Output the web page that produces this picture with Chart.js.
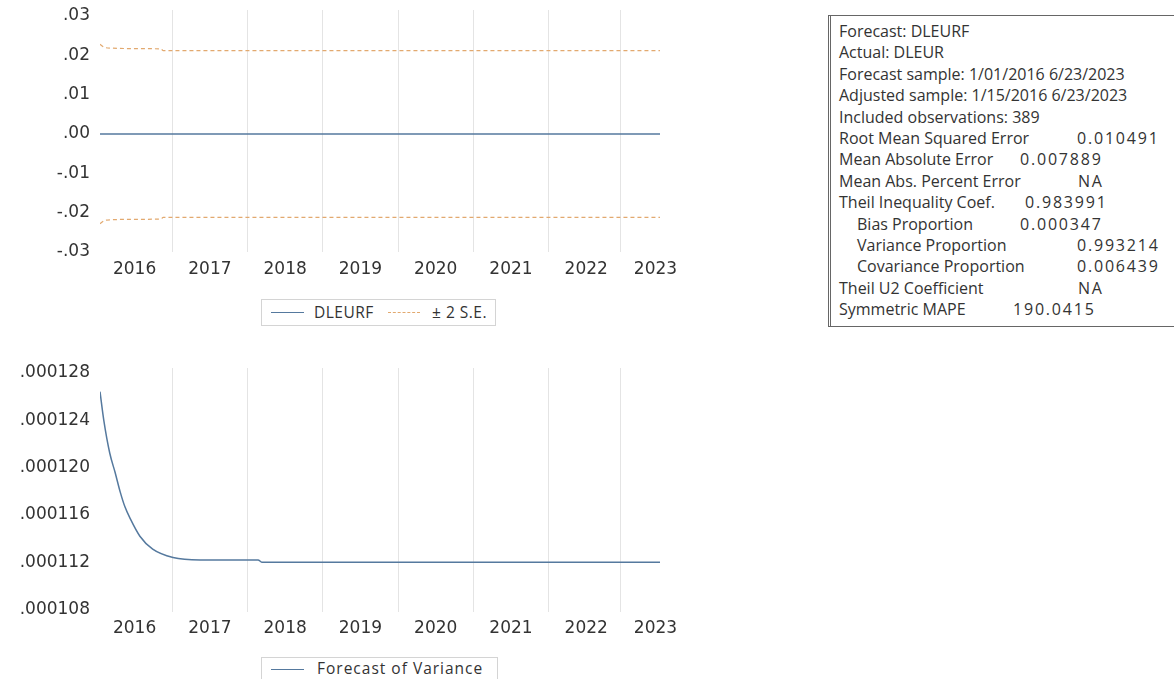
<!DOCTYPE html>
<html>
<head>
<meta charset="utf-8">
<script src="https://cdn.jsdelivr.net/npm/chart.js@4/dist/chart.umd.min.js"></script>
<style>
  html, body { margin: 0; padding: 0; background: #fff; }
  body { width: 1174px; height: 679px; position: relative; overflow: hidden; font-family: "Open Sans", sans-serif; color: #333; }
  .cv { position: absolute; left: 0; }
  #c1 { top: 0; }
  #c2 { top: 360px; }
  .legend { position: absolute; border: 1px solid #d4d4d4; background: #fff; font-size: 15.5px; color: #333; }
  .legend span { position: absolute; white-space: nowrap; }
  .ls { position: absolute; height: 0; }
  #stats { position: absolute; left: 828px; top: 15px; width: 360px; height: 312px; border: 1.5px solid #666; border-left: 3px double #666; box-sizing: border-box; font-size: 16px; color: #333; }
  .row { position: absolute; left: 0; height: 21px; line-height: 21px; white-space: nowrap; }
  .row span { position: absolute; top: 0; white-space: nowrap; }
  .row span.v { letter-spacing: 1.8px; }
</style>
</head>
<body>
<canvas id="c1" class="cv" width="700" height="290" style="width:700px;height:290px"></canvas>
<canvas id="c2" class="cv" width="700" height="290" style="width:700px;height:290px"></canvas>

<div class="legend" style="left:261px;top:299px;width:233px;height:25px;">
  <div class="ls" style="left:9px;top:12px;width:33px;border-top:1.5px solid #55799e;"></div>
  <span style="left:52px;top:1px;letter-spacing:0.5px;">DLEURF</span>
  <div class="ls" style="left:126px;top:12px;width:32px;border-top:1.2px dashed #e2a96f;"></div>
  <span style="left:170px;top:1px;letter-spacing:0.5px;">± 2 S.E.</span>
</div>
<div class="legend" style="left:261px;top:657px;width:235px;height:30px;">
  <div class="ls" style="left:9px;top:11px;width:33px;border-top:1.5px solid #55799e;"></div>
  <span style="left:55px;top:-1px;letter-spacing:1px;">Forecast of Variance</span>
</div>

<div id="stats"></div>

<script>
// ---- data (x = fractional year) ----
const yearTicks = [2016.5, 2017.5, 2018.5, 2019.5, 2020.5, 2021.5, 2022.5, 2023.42];
const yearLabels = ['2016', '2017', '2018', '2019', '2020', '2021', '2022', '2023'];

const fcX = [2016.04, 2023.48];
const fcY = [0, 0];

const seX = [2016.04, 2016.1, 2016.2, 2016.5, 2016.85, 2016.88, 2023.48];
const seUpper = [0.0228, 0.0220, 0.0218, 0.0217, 0.0216, 0.0212, 0.0212];
const seLower = [-0.0228, -0.0220, -0.0218, -0.0217, -0.0216, -0.0212, -0.0212];

const varX = [2016.04, 2016.09, 2016.17, 2016.24, 2016.31, 2016.37, 2016.44, 2016.57, 2016.74, 2017.01, 2017.37, 2018.14, 2018.19, 2023.48];
const varY = [0.0001264, 0.0001240, 0.0001212, 0.0001196, 0.0001179, 0.0001167, 0.0001157, 0.0001142, 0.0001131, 0.0001124, 0.0001122, 0.0001122, 0.0001120, 0.0001120];

const topYTicks = [-0.03, -0.02, -0.01, 0, 0.01, 0.02, 0.03];
const botYTicks = [0.000108, 0.000112, 0.000116, 0.000120, 0.000124, 0.000128];

const statsLabels = ['Forecast: DLEURF', 'Actual: DLEUR', 'Forecast sample: 1/01/2016 6/23/2023', 'Adjusted sample: 1/15/2016 6/23/2023', 'Included observations: 389', 'Root Mean Squared Error', 'Mean Absolute Error', 'Mean Abs. Percent Error', 'Theil Inequality Coef.', 'Bias Proportion', 'Variance Proportion', 'Covariance Proportion', 'Theil U2 Coefficient', 'Symmetric MAPE'];
const statsValues = ['', '', '', '', '', '0.010491', '0.007889', 'NA', '0.983991', '0.000347', '0.993214', '0.006439', 'NA', '190.0415'];
const statsIndent = [0, 0, 0, 0, 0, 0, 0, 0, 0, 1, 1, 1, 0, 0];
const statsValueX = [0, 0, 0, 0, 0, 246, 189, 247, 194, 189, 246, 246, 247, 182];

// ---- stats box ----
const box = document.getElementById('stats');
statsLabels.forEach((lab, i) => {
  const r = document.createElement('div');
  r.className = 'row';
  r.style.top = (5 + i * 21.4) + 'px';
  r.style.width = '100%';
  const a = document.createElement('span');
  a.textContent = lab;
  a.style.left = (statsIndent[i] ? 26 : 8) + 'px';
  r.appendChild(a);
  if (statsValues[i]) {
    const b = document.createElement('span');
    b.className = 'v';
    b.textContent = statsValues[i];
    b.style.left = statsValueX[i] + 'px';
    r.appendChild(b);
  }
  box.appendChild(r);
});

// ---- charts ----
const pts = (xs, ys) => xs.map((x, i) => ({ x: x, y: ys[i] }));
const tickFont = { family: 'DejaVu Sans', size: 17 };

function xScale(pad) {
  return {
    type: 'linear', min: 2016.04, max: 2023.48,
    afterBuildTicks: s => { s.ticks = yearTicks.map(v => ({ value: v })); },
    afterFit: s => { s.height = 38; s.paddingLeft = 0; s.paddingRight = 0; },
    grid: { display: true, offset: true, color: '#e4e4e4', drawTicks: false, lineWidth: 1 },
    border: { display: false },
    ticks: { autoSkip: false, maxRotation: 0, padding: pad, color: '#333', font: tickFont,
      callback: (v, i) => yearLabels[i] }
  };
}
function yScale(min, max, tickVals, fmt) {
  return {
    type: 'linear', min: min, max: max,
    afterBuildTicks: s => { s.ticks = tickVals.map(v => ({ value: v })); },
    afterFit: s => { s.width = 100; s.paddingTop = 0; s.paddingBottom = 0; },
    grid: { display: false, drawTicks: false },
    border: { display: false },
    ticks: { padding: 10, color: '#333', font: tickFont, callback: fmt }
  };
}
const common = {
  responsive: false, animation: false, devicePixelRatio: 1,
  plugins: { legend: { display: false }, tooltip: { enabled: false } },
  elements: { point: { radius: 0 } }
};

new Chart(document.getElementById('c1'), {
  type: 'line',
  data: { datasets: [
    { data: pts(fcX, fcY), borderColor: '#55799e', borderWidth: 1.5 },
    { data: pts(seX, seUpper), borderColor: '#e2a96f', borderWidth: 1.2, borderDash: [4, 3], cubicInterpolationMode: 'monotone' },
    { data: pts(seX, seLower), borderColor: '#e2a96f', borderWidth: 1.2, borderDash: [4, 3], cubicInterpolationMode: 'monotone' }
  ] },
  options: Object.assign({}, common, {
    layout: { padding: { left: 0, right: 40, top: 10, bottom: 0 } },
    scales: {
      x: xScale(7),
      y: yScale(-0.03, 0.0315, topYTicks, v => (v < 0 ? '-' : '') + Math.abs(v).toFixed(2).replace(/^0/, ''))
    }
  })
});

new Chart(document.getElementById('c2'), {
  type: 'line',
  data: { datasets: [
    { data: pts(varX, varY), borderColor: '#55799e', borderWidth: 1.5, cubicInterpolationMode: 'monotone' }
  ] },
  options: Object.assign({}, common, {
    layout: { padding: { left: 0, right: 40, top: 8, bottom: 0 } },
    scales: {
      x: xScale(6),
      y: yScale(0.0001078, 0.0001284, botYTicks, v => v.toFixed(6).replace(/^0/, ''))
    }
  })
});
</script>
</body>
</html>
